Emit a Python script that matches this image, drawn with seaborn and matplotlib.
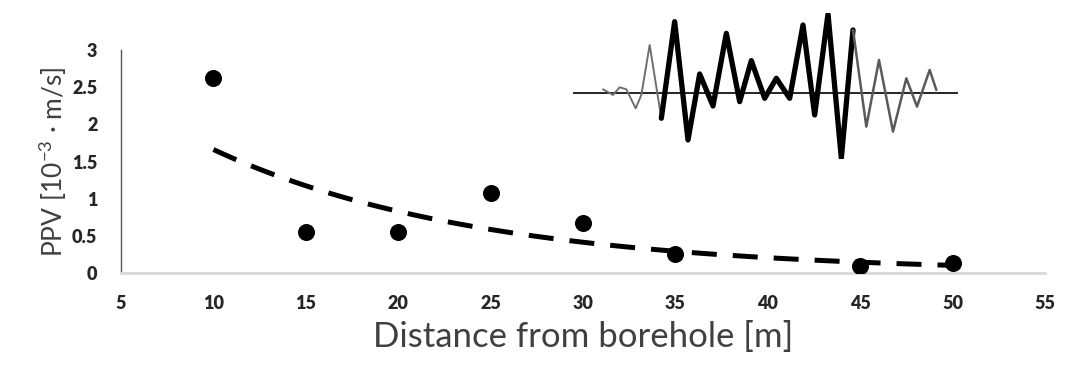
import numpy as np
import pandas as pd
import matplotlib.pyplot as plt
import seaborn as sns

# Measured peak particle velocity vs distance
distance = [10, 15, 20, 25, 30, 35, 45, 50]
ppv = [2.62, 0.55, 0.55, 1.08, 0.67, 0.26, 0.09, 0.13]

x_ticks = [5, 10, 15, 20, 25, 30, 35, 40, 45, 50, 55]
y_ticks = [0, 0.5, 1, 1.5, 2, 2.5, 3]

# Decorative seismogram inset (time step, amplitude)
wave_t = [130, 160, 180, 200, 228, 245, 270, 305, 345, 385, 420, 460, 500, 540, 575,
          615, 650, 690, 730, 765, 805, 845, 880, 920, 958, 1000, 1040, 1072, 1110, 1130]
wave_amp = [10, -7, 16, 10, -47, -7, 143, -77, 213, -142, 56, -40, 178, -27, 96,
            -17, 43, -17, 203, -67, 236, -197, 188, -102, 98, -117, 43, -42, 68, 8]
thick_start, thick_end = 7, 22

sns.set_theme(style="white")
plt.rcParams['font.family'] = ['Lato', 'DejaVu Sans']
plt.rcParams['mathtext.default'] = 'regular'

df = pd.DataFrame({'Distance': distance, 'PPV': ppv})

# exponential trendline (least squares on log values)
slope, intercept = np.polyfit(df['Distance'], np.log(df['PPV']), 1)
trend = pd.DataFrame({'Distance': np.linspace(min(distance), max(distance), 100)})
trend['PPV'] = np.exp(intercept) * np.exp(slope * trend['Distance'])

fig = plt.figure(figsize=(10.73, 3.70), dpi=100)
ax = fig.add_axes([0.1128, 0.262, 0.861, 0.603])

sns.lineplot(data=trend, x='Distance', y='PPV', ax=ax, color='black',
             linewidth=3.6, dashes=False, linestyle=(0, (5, 3.2)))
sns.scatterplot(data=df, x='Distance', y='PPV', ax=ax, color='black',
                s=150, edgecolor='black', linewidth=0, zorder=3)

ax.set_xlim(5, 55)
ax.set_ylim(0, 3)
ax.set_xticks(x_ticks)
ax.set_yticks(y_ticks)
ax.set_xticklabels([str(v) for v in x_ticks], fontweight='heavy', fontsize=13)
ax.set_yticklabels([f'{v:g}' for v in y_ticks], fontweight='heavy', fontsize=13)
ax.tick_params(axis='x', length=0, pad=16)
ax.tick_params(axis='y', length=0, pad=17)

for side in ['top', 'right']:
    ax.spines[side].set_visible(False)
ax.spines['left'].set_color('#555555')
ax.spines['left'].set_linewidth(1.0)
ax.spines['bottom'].set_color('#d9d9d9')
ax.spines['bottom'].set_linewidth(2.0)

ax.set_xlabel('Distance from borehole [m]', fontsize=25, color='#404040', labelpad=6)
ax.set_ylabel('PPV [10$^{-3}$ · m/s]', fontsize=19, color='#404040', labelpad=2)

# seismogram inset
ins = fig.add_axes([573 / 1073, 0.5695, 385 / 1073, 0.3945])
ins.axhline(0, color='black', linewidth=1.2)
wave = pd.DataFrame({'t': wave_t, 'amp': wave_amp})
sns.lineplot(data=wave.iloc[:thick_start + 1], x='t', y='amp', ax=ins,
             color='#6e6e6e', linewidth=1.4, sort=False)
sns.lineplot(data=wave.iloc[thick_start:thick_end + 1], x='t', y='amp', ax=ins,
             color='black', linewidth=3.8, sort=False)
sns.lineplot(data=wave.iloc[thick_end:], x='t', y='amp', ax=ins,
             color='#5a5a5a', linewidth=1.8, sort=False)
ins.set_xlim(40, 1195)
ins.set_ylim(-200, 238)
ins.axis('off')

fig.savefig('out.png', dpi=100, facecolor='white')
